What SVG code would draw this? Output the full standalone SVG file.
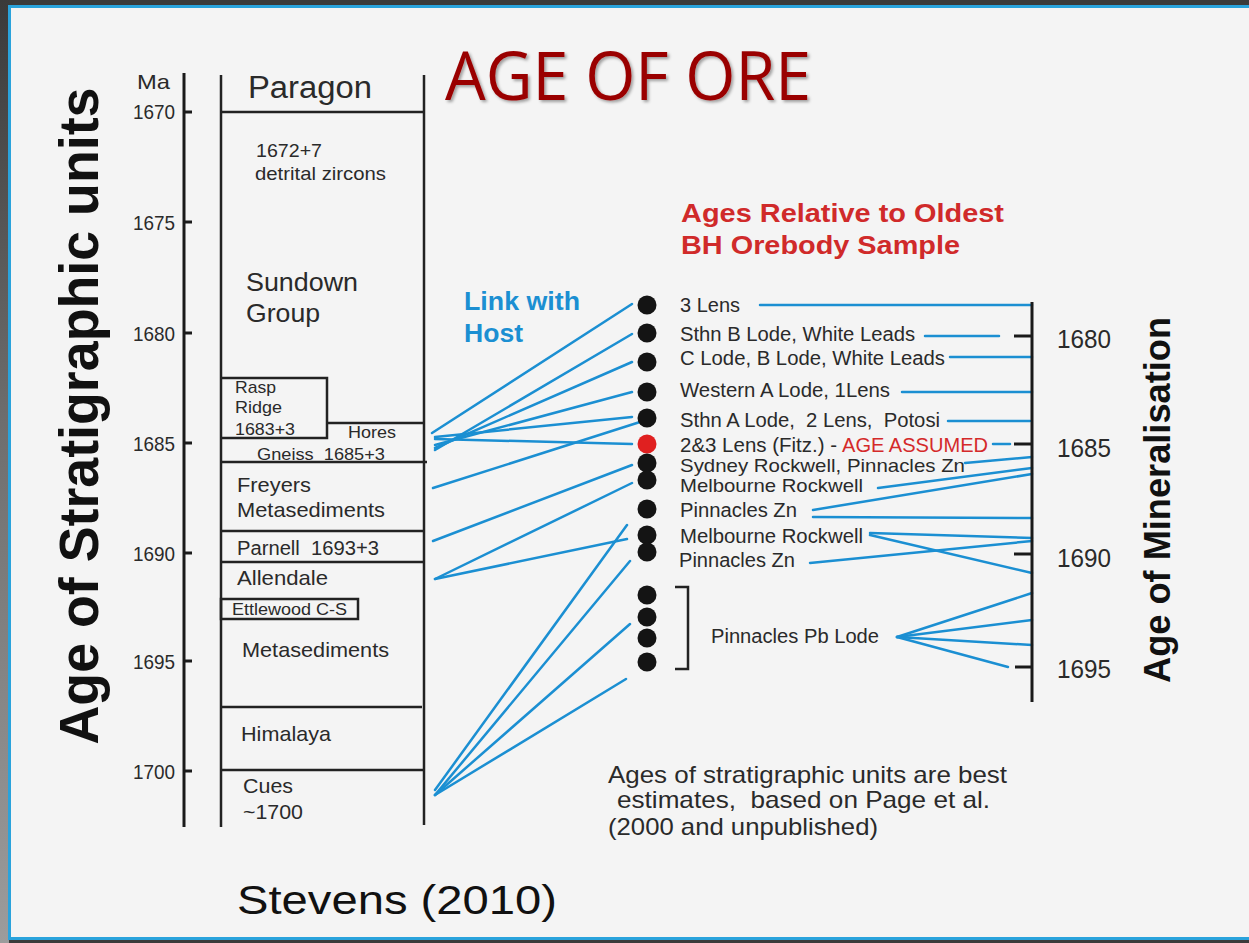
<svg xmlns="http://www.w3.org/2000/svg" width="1249" height="943" viewBox="0 0 1249 943">
<defs>
<linearGradient id="side" x1="0" y1="0" x2="0" y2="1">
<stop offset="0" stop-color="#3a3a3a"/>
<stop offset="0.45" stop-color="#6e6e6e"/>
<stop offset="1" stop-color="#9c9c9c"/>
</linearGradient>
<filter id="shadow" x="-5%" y="-20%" width="115%" height="150%">
<feDropShadow dx="2" dy="2" stdDeviation="1.5" flood-color="#000" flood-opacity="0.35"/>
</filter>
<style>
.t{font-family:"Liberation Sans",Arial,sans-serif;fill:#2a2a2a}
.b{font-weight:bold}
.pre{white-space:pre}
.ax{stroke:#1a1a1a;stroke-width:3;fill:none}
.col{stroke:#222;stroke-width:2.5;fill:none}
.cn{stroke:#1b8fd2;stroke-width:2.5;fill:none;stroke-linecap:round}
.dot{fill:#141414}
</style>
</defs>

<!-- frame -->
<rect x="0" y="0" width="1249" height="943" fill="#3b3b3b"/>
<rect x="0" y="0" width="9" height="943" fill="url(#side)"/>
<rect x="9.5" y="6.5" width="1260" height="932" fill="#f4f4f4" stroke="#2aa3dc" stroke-width="3"/>

<!-- title -->
<text x="445" y="100" font-family="'Open Sans','Liberation Sans',sans-serif" font-size="67" fill="#9a0000" textLength="366" lengthAdjust="spacingAndGlyphs" filter="url(#shadow)">AGE OF ORE</text>

<!-- left axis -->
<g id="left-axis">
<line class="ax" x1="184" y1="73" x2="184" y2="827"/>
<path class="ax" d="M184 112H192M184 222H192M184 333H192M184 443H192M184 553H192M184 661H192M184 771H192"/>
<g class="t" font-size="21" text-anchor="end">
<text x="170" y="89" textLength="33" lengthAdjust="spacingAndGlyphs">Ma</text>
<text x="175" y="119" textLength="42" lengthAdjust="spacingAndGlyphs">1670</text>
<text x="175" y="230" textLength="42" lengthAdjust="spacingAndGlyphs">1675</text>
<text x="175" y="341" textLength="42" lengthAdjust="spacingAndGlyphs">1680</text>
<text x="175" y="451" textLength="42" lengthAdjust="spacingAndGlyphs">1685</text>
<text x="175" y="561" textLength="42" lengthAdjust="spacingAndGlyphs">1690</text>
<text x="175" y="669" textLength="42" lengthAdjust="spacingAndGlyphs">1695</text>
<text x="175" y="779" textLength="42" lengthAdjust="spacingAndGlyphs">1700</text>
</g>
<text class="t b" transform="translate(98,416) rotate(-90)" font-size="55" style="fill:#111" text-anchor="middle" textLength="657" lengthAdjust="spacingAndGlyphs">Age of Stratigraphic units</text>
</g>

<!-- stratigraphic column -->
<g id="column">
<line class="col" x1="221" y1="75" x2="221" y2="827"/>
<line class="col" x1="424" y1="75" x2="424" y2="825"/>
</g>
<g id="unit-paragon">
<text class="t" x="248" y="98" font-size="31" textLength="124" lengthAdjust="spacingAndGlyphs">Paragon</text>
<line class="col" x1="221" y1="112" x2="424" y2="112"/>
</g>
<g id="unit-sundown">
<text class="t" x="256" y="157" font-size="19" textLength="66" lengthAdjust="spacingAndGlyphs">1672+7</text>
<text class="t" x="255" y="180" font-size="19" textLength="131" lengthAdjust="spacingAndGlyphs">detrital zircons</text>
<text class="t" x="246" y="291" font-size="26" textLength="112" lengthAdjust="spacingAndGlyphs">Sundown</text>
<text class="t" x="246" y="322" font-size="26" textLength="74" lengthAdjust="spacingAndGlyphs">Group</text>
</g>
<g id="unit-rasp-ridge">
<path class="col" d="M221 378H327V438H221"/>
<text class="t" x="235" y="393" font-size="17" textLength="41" lengthAdjust="spacingAndGlyphs">Rasp</text>
<text class="t" x="235" y="413" font-size="17" textLength="47" lengthAdjust="spacingAndGlyphs">Ridge</text>
<text class="t" x="235" y="435" font-size="17" textLength="60" lengthAdjust="spacingAndGlyphs">1683+3</text>
</g>
<g id="unit-hores">
<line class="col" x1="327" y1="423" x2="424" y2="423"/>
<text class="t" x="348" y="438" font-size="17" textLength="48" lengthAdjust="spacingAndGlyphs">Hores</text>
<text class="t pre" x="257" y="460" font-size="17" textLength="128" lengthAdjust="spacingAndGlyphs">Gneiss  1685+3</text>
<line class="col" x1="221" y1="462" x2="427" y2="462"/>
</g>
<g id="unit-freyers">
<text class="t" x="237" y="492" font-size="21" textLength="74" lengthAdjust="spacingAndGlyphs">Freyers</text>
<text class="t" x="237" y="517" font-size="21" textLength="148" lengthAdjust="spacingAndGlyphs">Metasediments</text>
<line class="col" x1="221" y1="531" x2="424" y2="531"/>
</g>
<g id="unit-parnell">
<text class="t pre" x="237" y="555" font-size="20" textLength="142" lengthAdjust="spacingAndGlyphs">Parnell  1693+3</text>
<line class="col" x1="221" y1="562" x2="424" y2="562"/>
</g>
<g id="unit-allendale">
<text class="t" x="237" y="585" font-size="21" textLength="91" lengthAdjust="spacingAndGlyphs">Allendale</text>
</g>
<g id="unit-ettlewood">
<rect class="col" x="221" y="599" width="137" height="20"/>
<text class="t" x="232" y="615" font-size="16" textLength="115" lengthAdjust="spacingAndGlyphs">Ettlewood C-S</text>
</g>
<g id="unit-metasediments">
<text class="t" x="242" y="657" font-size="21" textLength="147" lengthAdjust="spacingAndGlyphs">Metasediments</text>
</g>
<g id="unit-himalaya">
<line class="col" x1="221" y1="707" x2="422" y2="707"/>
<text class="t" x="241" y="741" font-size="21" textLength="90" lengthAdjust="spacingAndGlyphs">Himalaya</text>
</g>
<g id="unit-cues">
<line class="col" x1="221" y1="770" x2="424" y2="770"/>
<text class="t" x="243" y="793" font-size="21" textLength="50" lengthAdjust="spacingAndGlyphs">Cues</text>
<text class="t" x="243" y="819" font-size="21" textLength="60" lengthAdjust="spacingAndGlyphs">~1700</text>
</g>

<!-- headings -->
<g id="link-heading">
<text class="t b" x="464" y="310" font-size="26" style="fill:#1b8fd2" textLength="116" lengthAdjust="spacingAndGlyphs">Link with</text>
<text class="t b" x="464" y="342" font-size="26" style="fill:#1b8fd2" textLength="59" lengthAdjust="spacingAndGlyphs">Host</text>
</g>
<g id="ages-heading">
<text class="t b" x="681" y="222" font-size="25" style="fill:#d02a2a" textLength="323" lengthAdjust="spacingAndGlyphs">Ages Relative to Oldest</text>
<text class="t b" x="681" y="254" font-size="25" style="fill:#d02a2a" textLength="279" lengthAdjust="spacingAndGlyphs">BH Orebody Sample</text>
</g>

<!-- connectors -->
<g id="connectors" class="cn">
<line x1="432" y1="433" x2="632" y2="304"/>
<line x1="435" y1="450" x2="632" y2="334"/>
<line x1="435" y1="448" x2="632" y2="362"/>
<line x1="435" y1="445" x2="632" y2="392"/>
<line x1="435" y1="437" x2="632" y2="417"/>
<line x1="435" y1="439" x2="632" y2="444"/>
<line x1="433" y1="488" x2="640" y2="422"/>
<line x1="433" y1="541" x2="632" y2="465"/>
<line x1="435" y1="579" x2="632" y2="483"/>
<line x1="435" y1="579" x2="627" y2="539"/>
<line x1="435" y1="790" x2="627" y2="525"/>
<line x1="435" y1="795" x2="630" y2="561"/>
<line x1="435" y1="795" x2="630" y2="624"/>
<line x1="435" y1="795" x2="626" y2="679"/>

<line x1="760" y1="305" x2="1032" y2="305"/>
<line x1="925" y1="336" x2="999" y2="336"/>
<line x1="950" y1="357" x2="1032" y2="357"/>
<line x1="902" y1="392" x2="1032" y2="392"/>
<line x1="948" y1="421" x2="1030" y2="421"/>
<line x1="993" y1="444" x2="1010" y2="444"/>
<line x1="965" y1="463" x2="1032" y2="457"/>
<line x1="878" y1="488" x2="1032" y2="468"/>
<line x1="813" y1="510" x2="1032" y2="474"/>
<line x1="813" y1="517" x2="1032" y2="518"/>
<line x1="870" y1="533" x2="1032" y2="538"/>
<line x1="870" y1="535" x2="1032" y2="573"/>
<line x1="810" y1="563" x2="1032" y2="541"/>
<line x1="897" y1="637" x2="1032" y2="593"/>
<line x1="897" y1="637" x2="1032" y2="620"/>
<line x1="897" y1="637" x2="1032" y2="645"/>
<line x1="897" y1="637" x2="1008" y2="667"/>
</g>

<!-- samples -->
<g id="samples">
<circle class="dot" cx="647" cy="305" r="9.5"/>
<circle class="dot" cx="647" cy="333" r="9.5"/>
<circle class="dot" cx="647" cy="362" r="9.5"/>
<circle class="dot" cx="647" cy="392" r="9.5"/>
<circle class="dot" cx="647" cy="418" r="9.5"/>
<circle cx="647" cy="444" r="9.5" fill="#e02020"/>
<circle class="dot" cx="647" cy="463" r="9.5"/>
<circle class="dot" cx="647" cy="480" r="9.5"/>
<circle class="dot" cx="647" cy="509" r="9.5"/>
<circle class="dot" cx="647" cy="535" r="9.5"/>
<circle class="dot" cx="647" cy="552" r="9.5"/>
<circle class="dot" cx="647" cy="595" r="9.5"/>
<circle class="dot" cx="647" cy="617" r="9.5"/>
<circle class="dot" cx="647" cy="638" r="9.5"/>
<circle class="dot" cx="647" cy="662" r="9.5"/>
</g>
<g id="sample-labels" class="t" font-size="20">
<text x="680" y="312" textLength="60" lengthAdjust="spacingAndGlyphs">3 Lens</text>
<text x="680" y="341" textLength="235" lengthAdjust="spacingAndGlyphs">Sthn B Lode, White Leads</text>
<text x="680" y="365" textLength="265" lengthAdjust="spacingAndGlyphs">C Lode, B Lode, White Leads</text>
<text x="680" y="397" textLength="210" lengthAdjust="spacingAndGlyphs">Western A Lode, 1Lens</text>
<text class="pre" x="680" y="427" textLength="260" lengthAdjust="spacingAndGlyphs">Sthn A Lode,  2 Lens,  Potosi</text>
<text x="680" y="452" textLength="157" lengthAdjust="spacingAndGlyphs">2&amp;3 Lens (Fitz.) -</text>
<text x="842" y="452" style="fill:#d42a2a" textLength="146" lengthAdjust="spacingAndGlyphs">AGE ASSUMED</text>
<text x="680" y="472" font-size="19" textLength="285" lengthAdjust="spacingAndGlyphs">Sydney Rockwell, Pinnacles Zn</text>
<text x="680" y="492" font-size="19" textLength="183" lengthAdjust="spacingAndGlyphs">Melbourne Rockwell</text>
<text x="680" y="517" textLength="117" lengthAdjust="spacingAndGlyphs">Pinnacles Zn</text>
<text x="680" y="543" textLength="183" lengthAdjust="spacingAndGlyphs">Melbourne Rockwell</text>
<text x="679" y="567" textLength="116" lengthAdjust="spacingAndGlyphs">Pinnacles Zn</text>
</g>
<g id="pb-lode">
<path class="col" d="M675 587H688V669H675"/>
<text class="t" x="711" y="643" font-size="20" textLength="168" lengthAdjust="spacingAndGlyphs">Pinnacles Pb Lode</text>
</g>

<!-- right axis -->
<g id="right-axis">
<line class="ax" x1="1032" y1="302" x2="1032" y2="702"/>
<path class="ax" d="M1014 336H1032M1014 444H1032M1014 554H1032M1015 667H1032"/>
<g class="t" font-size="25">
<text x="1057" y="348" textLength="54" lengthAdjust="spacingAndGlyphs">1680</text>
<text x="1057" y="457" textLength="54" lengthAdjust="spacingAndGlyphs">1685</text>
<text x="1057" y="567" textLength="54" lengthAdjust="spacingAndGlyphs">1690</text>
<text x="1057" y="678" textLength="54" lengthAdjust="spacingAndGlyphs">1695</text>
</g>
<text class="t b" transform="translate(1170,500) rotate(-90)" font-size="36" style="fill:#111" text-anchor="middle" textLength="366" lengthAdjust="spacingAndGlyphs">Age of Mineralisation</text>
</g>

<!-- notes -->
<g id="note" class="t" font-size="24">
<text x="608" y="783" textLength="399" lengthAdjust="spacingAndGlyphs">Ages of stratigraphic units are best</text>
<text class="pre" x="617" y="808" textLength="373" lengthAdjust="spacingAndGlyphs">estimates,  based on Page et al.</text>
<text x="608" y="835" textLength="270" lengthAdjust="spacingAndGlyphs">(2000 and unpublished)</text>
</g>
<text id="credit" class="t" x="237" y="914" font-size="40" style="fill:#111" textLength="320" lengthAdjust="spacingAndGlyphs">Stevens (2010)</text>
</svg>
